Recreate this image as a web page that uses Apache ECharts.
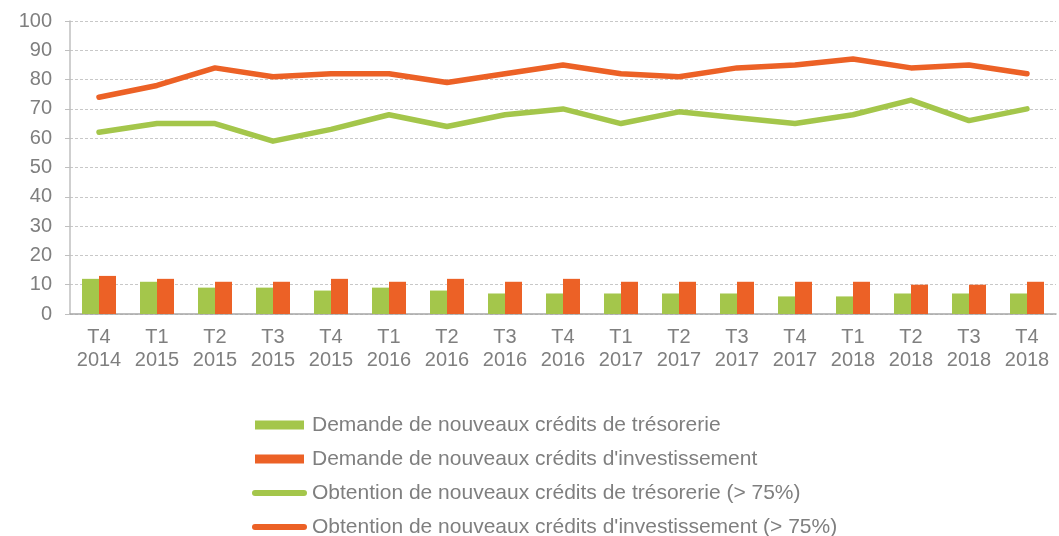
<!DOCTYPE html>
<html>
<head>
<meta charset="utf-8">
<script src="https://cdn.jsdelivr.net/npm/echarts@6/dist/echarts.min.js"></script>
<style>
  html, body { margin: 0; padding: 0; background: #fff; }
  #chart { width: 1059px; height: 536px; }
</style>
</head>
<body>
<div id="chart"></div>
<script>
// Quarters on the x axis
const categories = [
    'T4\n2014', 'T1\n2015', 'T2\n2015', 'T3\n2015', 'T4\n2015',
    'T1\n2016', 'T2\n2016', 'T3\n2016', 'T4\n2016',
    'T1\n2017', 'T2\n2017', 'T3\n2017', 'T4\n2017',
    'T1\n2018', 'T2\n2018', 'T3\n2018', 'T4\n2018'
];

const demandeTresorerie = [12, 11, 9, 9, 8, 9, 8, 7, 7, 7, 7, 7, 6, 6, 7, 7, 7];
const demandeInvestissement = [13, 12, 11, 11, 12, 11, 12, 11, 12, 11, 11, 11, 11, 11, 10, 10, 11];
const obtentionTresorerie = [62, 65, 65, 59, 63, 68, 64, 68, 70, 65, 69, 67, 65, 68, 73, 66, 70];
const obtentionInvestissement = [74, 78, 84, 81, 82, 82, 79, 82, 85, 82, 81, 84, 85, 87, 84, 85, 82];

const names = [
    'Demande de nouveaux crédits de trésorerie',
    "Demande de nouveaux crédits d'investissement",
    'Obtention de nouveaux crédits de trésorerie (> 75%)',
    "Obtention de nouveaux crédits d'investissement (> 75%)"
];

const GREEN = '#a4c64b';
const ORANGE = '#ec6126';
const TEXT = '#7f7f7f';

// legend icons: flat block for bars, thick rounded stroke for lines
const barIcon = 'path://M0,0 L49,0 L49,9 L0,9 Z';
const lineIcon = 'path://M3,0 L52,0 A3,3 0 0 1 52,6 L3,6 A3,3 0 0 1 3,0 Z';

const chart = echarts.init(document.getElementById('chart'));

chart.setOption({
    animation: false,
    textStyle: { fontFamily: 'Liberation Sans, Arial, sans-serif' },
    grid: { left: 70, right: 3, top: 21, bottom: 222, containLabel: false },
    legend: {
        orient: 'vertical',
        left: 252,
        top: 414,
        height: 125,
        padding: 0,
        itemWidth: 55,
        itemHeight: 9,
        itemGap: 12,
        symbolKeepAspect: true,
        textStyle: { color: TEXT, fontSize: 21, lineHeight: 22 },
        data: [
            { name: names[0], icon: barIcon },
            { name: names[1], icon: barIcon },
            { name: names[2], icon: lineIcon },
            { name: names[3], icon: lineIcon }
        ]
    },
    xAxis: {
        type: 'category',
        data: categories,
        axisLine: { lineStyle: { color: '#a6a6a6', width: 1.5 } },
        axisTick: { show: false },
        axisLabel: { color: TEXT, fontSize: 20, lineHeight: 23, margin: 12, interval: 0 }
    },
    yAxis: {
        type: 'value',
        min: 0,
        max: 100,
        interval: 10,
        axisLine: { show: true, lineStyle: { color: '#bfbfbf', width: 1.5 } },
        axisTick: { show: true, length: 5, lineStyle: { color: '#bfbfbf' } },
        axisLabel: { color: TEXT, fontSize: 20, margin: 18 },
        splitLine: { lineStyle: { color: '#c8c8c8', type: [3, 2] } }
    },
    series: [
        {
            name: names[0], type: 'bar', data: demandeTresorerie,
            barWidth: 17, barGap: '0%',
            itemStyle: { color: GREEN }
        },
        {
            name: names[1], type: 'bar', data: demandeInvestissement,
            barWidth: 17, barGap: '0%',
            itemStyle: { color: ORANGE }
        },
        {
            name: names[2], type: 'line', data: obtentionTresorerie,
            symbol: 'none',
            lineStyle: { color: GREEN, width: 5.5, cap: 'round', join: 'round' },
            itemStyle: { color: GREEN }
        },
        {
            name: names[3], type: 'line', data: obtentionInvestissement,
            symbol: 'none',
            lineStyle: { color: ORANGE, width: 5.5, cap: 'round', join: 'round' },
            itemStyle: { color: ORANGE }
        }
    ]
});
</script>
</body>
</html>
